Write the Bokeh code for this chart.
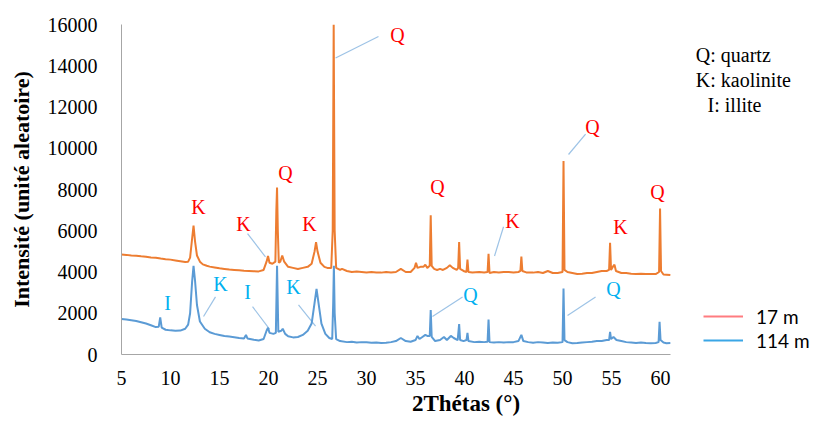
from bokeh.plotting import figure
from bokeh.models import Range1d, Label, Legend, LegendItem, FixedTicker
from bokeh.embed import file_html
from bokeh.resources import INLINE

# ---- data: 2-theta (deg) and intensity ----
theta_17 = [5.0, 5.5, 6.0, 6.5, 7.0, 7.5, 8.0, 8.5, 9.0, 9.5, 10.0, 10.5, 11.0, 11.5, 11.8, 12.0, 12.2, 12.35, 12.5, 12.7,
            13.0, 13.3, 13.7, 14.0, 14.5, 15.0, 15.5, 16.0, 16.5, 17.0, 17.5, 18.0, 18.5, 19.0, 19.5, 19.8, 19.95, 20.1, 20.4, 20.7,
            20.8, 20.87, 20.95, 21.05, 21.2, 21.4, 21.6, 22.0, 22.5, 23.0, 23.5, 24.0, 24.4, 24.7, 24.85, 25.0, 25.3, 25.7, 26.0, 26.4,
            26.55, 26.65, 26.75, 26.9, 27.3, 27.5, 28.0, 28.5, 29.0, 29.5, 30.0, 30.5, 31.0, 31.5, 32.0, 32.5, 33.0, 33.5, 34.0, 34.5,
            34.9, 35.05, 35.2, 35.5, 35.8, 36.0, 36.2, 36.45, 36.55, 36.65, 36.9, 37.2, 37.5, 37.8, 38.2, 38.5, 38.8, 39.2, 39.35, 39.45,
            39.55, 39.9, 40.2, 40.3, 40.4, 40.8, 41.5, 42.0, 42.35, 42.45, 42.55, 43.0, 43.5, 44.0, 44.5, 45.0, 45.5, 45.7, 45.8, 45.9,
            46.3, 47.0, 47.5, 48.0, 48.5, 49.0, 49.5, 50.0, 50.1, 50.2, 50.5, 51.0, 51.5, 52.0, 52.5, 53.0, 53.5, 54.0, 54.5, 54.75,
            54.85, 54.95, 55.2, 55.3, 55.45, 56.0, 56.5, 57.0, 57.5, 58.0, 58.5, 59.0, 59.5, 59.85, 59.95, 60.05, 60.3, 60.6, 61.0]
int_17 = [4850, 4830, 4800, 4790, 4760, 4740, 4700, 4690, 4650, 4620, 4600, 4560, 4520, 4480, 4500, 4700, 5600, 6250, 5500, 4800,
          4500, 4370, 4300, 4260, 4220, 4180, 4150, 4120, 4100, 4080, 4060, 4050, 4040, 4030, 4100, 4500, 4780, 4450, 4400, 4500,
          7000, 8100, 6000, 4450, 4500, 4800, 4500, 4250, 4200, 4150, 4200, 4250, 4400, 5000, 5450, 5000, 4450, 4250, 4200, 4200,
          6000, 16000, 6000, 4200, 4100, 4150, 4050, 4000, 4020, 4000, 3980, 4000, 3980, 3970, 4000, 3980, 4000, 4150, 4000, 4000,
          4200, 4450, 4200, 4250, 4250, 4350, 4200, 4300, 6750, 4300, 4150, 4100, 4150, 4100, 4200, 4330, 4200, 4100, 4200, 5450,
          4150, 4050, 4000, 4600, 4000, 3980, 4000, 3980, 4000, 4880, 3950, 4000, 3980, 4000, 4000, 3980, 4000, 4050, 4750, 4050,
          3980, 3970, 4000, 3950, 4050, 3950, 3950, 4000, 9380, 4100, 4000, 3950, 3900, 3920, 3950, 3950, 4000, 4050, 4050, 4100,
          5420, 4100, 4300, 4350, 4050, 3950, 3950, 3920, 3900, 3920, 3900, 3900, 3900, 4000, 7080, 4050, 3880, 3870, 3850]

theta_114 = [5.0, 5.5, 6.0, 6.5, 7.0, 7.5, 8.0, 8.5, 8.8, 8.95, 9.1, 9.5, 10.0, 10.5, 11.0, 11.5, 11.8, 12.0, 12.2, 12.35,
             12.5, 12.7, 13.0, 13.5, 14.0, 14.5, 15.0, 15.5, 16.0, 16.5, 17.0, 17.5, 17.7, 17.85, 18.5, 19.0, 19.5, 19.8, 19.95, 20.1,
             20.5, 20.75, 20.87, 21.0, 21.3, 21.45, 21.7, 22.0, 22.5, 23.0, 23.5, 24.0, 24.4, 24.7, 24.9, 25.1, 25.4, 25.8, 26.2, 26.5,
             26.6, 26.67, 26.75, 26.9, 27.3, 28.0, 28.5, 29.0, 29.5, 30.0, 30.5, 31.0, 31.5, 32.0, 32.5, 33.0, 33.5, 34.0, 34.5, 35.0,
             35.2, 35.4, 35.7, 36.0, 36.2, 36.45, 36.55, 36.65, 37.0, 37.5, 37.9, 38.2, 38.6, 38.9, 39.3, 39.45, 39.55, 39.9, 40.2, 40.3,
             40.4, 41.0, 41.5, 42.0, 42.35, 42.45, 42.55, 43.0, 43.5, 44.0, 44.5, 45.0, 45.5, 45.8, 46.0, 46.5, 47.0, 47.5, 48.0, 48.5,
             49.0, 49.5, 50.0, 50.1, 50.2, 50.5, 51.0, 51.5, 52.0, 52.5, 53.0, 53.5, 54.0, 54.5, 54.75, 54.85, 54.95, 55.2, 55.5, 56.0,
             56.5, 57.0, 57.5, 58.0, 58.5, 59.0, 59.5, 59.8, 59.9, 60.0, 60.3, 60.6, 61.0]
int_114 = [1720, 1700, 1660, 1620, 1560, 1500, 1420, 1330, 1350, 1800, 1300, 1200, 1170, 1150, 1160, 1250, 1450, 2000, 3500, 4300,
           3600, 2400, 1600, 1250, 1080, 1000, 950, 900, 870, 840, 800, 780, 950, 780, 720, 680, 750, 1150, 1300, 1050,
           1000, 1050, 4300, 1100, 1150, 1250, 1000, 880, 830, 850, 950, 1150, 1500, 2500, 3180, 2500, 1500, 1000, 800, 750,
           2500, 4300, 2000, 750, 650, 600, 620, 580, 600, 590, 570, 580, 560, 570, 600, 650, 800, 650, 620, 700,
           900, 750, 850, 950, 900, 900, 2150, 850, 650, 700, 850, 700, 900, 800, 700, 1480, 700, 650, 700, 1050,
           650, 600, 620, 600, 620, 1700, 600, 580, 600, 580, 600, 600, 650, 950, 650, 600, 570, 600, 580, 560,
           580, 570, 600, 3200, 700, 600, 550, 560, 580, 600, 620, 650, 650, 700, 700, 1100, 750, 850, 700, 650,
           600, 580, 560, 580, 560, 550, 560, 600, 1580, 700, 580, 550, 560]

x_ticks = [5, 10, 15, 20, 25, 30, 35, 40, 45, 50, 55, 60]
y_ticks = [0, 2000, 4000, 6000, 8000, 10000, 12000, 14000, 16000]

# peak annotations (mineral letter, x, y)
ann_17_text = ["Q", "Q", "K", "K", "K", "Q", "K", "Q", "K", "Q"]
ann_17_x = [33.16, 21.73, 12.86, 17.45, 24.18, 37.24, 44.9, 53.06, 55.92, 59.69]
ann_17_y = [15514, 8798, 7142, 6338, 6338, 8136, 6480, 11021, 6196, 7899]
ann_114_text = ["I", "K", "I", "K", "Q", "Q"]
ann_114_x = [9.69, 15.1, 17.86, 22.55, 40.61, 55.2]
ann_114_y = [2507, 3406, 3027, 3264, 2885, 3169]
# leader lines (x0, y0, x1, y1)
lead_x0 = [26.84, 17.86, 43.98, 52.35, 14.59, 18.37, 23.06, 39.8, 53.37]
lead_y0 = [14379, 5865, 6196, 10690, 2791, 2318, 2412, 2791, 2791]
lead_x1 = [31.22, 19.69, 43.06, 50.61, 13.37, 20.1, 24.8, 36.73, 50.51]
lead_y1 = [15420, 4730, 4777, 9697, 1845, 1230, 1372, 1845, 1892]

key_text = ["Q: quartz", "K: kaolinite", "I: illite"]
key_x = [63.6, 63.6, 64.8]
key_y = [14500, 13320, 12100]

series_names = ["17 m", "114 m"]

SERIF = "Liberation Serif"
NAN = float("nan")

p = figure(width=814, height=418, output_backend="svg", toolbar_location=None,
           x_range=Range1d(5, 75.3), y_range=Range1d(0, 16000),
           min_border_left=121, min_border_right=4, min_border_top=24, min_border_bottom=62)
p.outline_line_color = None
p.xgrid.visible = False
p.ygrid.visible = False

for ax in (p.xaxis[0], p.yaxis[0]):
    ax.axis_line_color = "#A6A6A6"
    ax.axis_line_width = 1
    ax.major_tick_line_color = None
    ax.minor_tick_line_color = None
    ax.major_label_text_font = SERIF
    ax.major_label_text_font_size = "20px"
    ax.major_label_text_color = "#000000"
    ax.axis_label_text_font = SERIF
    ax.axis_label_text_font_style = "bold"
    ax.axis_label_text_color = "#000000"

p.xaxis.bounds = (5, 61)
p.xaxis.ticker = FixedTicker(ticks=x_ticks)
p.yaxis.ticker = FixedTicker(ticks=y_ticks)
p.xaxis.axis_label = "2Thétas (°)"
p.yaxis.axis_label = "Intensité (unité aleatoire)"
p.xaxis.axis_label_text_font_size = "23px"
p.yaxis.axis_label_text_font_size = "22px"
p.xaxis.major_label_standoff = 10
p.xaxis.axis_label_standoff = 3
p.yaxis.major_label_standoff = 18
p.yaxis.axis_label_standoff = 11

# leader lines
p.segment(x0=lead_x0, y0=lead_y0, x1=lead_x1, y1=lead_y1, line_color="#9DC3E6", line_width=1.2)

p.line(theta_114, int_114, line_color="#5B9BD5", line_width=2)
p.line(theta_17, int_17, line_color="#ED7D31", line_width=2)

for t, x, y in zip(ann_17_text, ann_17_x, ann_17_y):
    p.add_layout(Label(x=x, y=y, text=t, text_color="#FF0000", text_font=SERIF,
                       text_font_size="20px", text_align="center", text_baseline="middle"))
for t, x, y in zip(ann_114_text, ann_114_x, ann_114_y):
    p.add_layout(Label(x=x, y=y, text=t, text_color="#00B0F0", text_font=SERIF,
                       text_font_size="20px", text_align="center", text_baseline="middle"))
for t, x, y in zip(key_text, key_x, key_y):
    p.add_layout(Label(x=x, y=y, text=t, text_color="#000000", text_font=SERIF,
                       text_font_size="20px", text_align="left", text_baseline="middle"))

# legend with its own swatches (renderers hold no visible data)
r17 = p.line([NAN], [NAN], line_color="#FF7C80", line_width=2)
r114 = p.line([NAN], [NAN], line_color="#3AA6E6", line_width=2)
legend = Legend(items=[LegendItem(label=series_names[0], renderers=[r17]),
                       LegendItem(label=series_names[1], renderers=[r114])],
                location=(582, 2), orientation="vertical",
                glyph_width=40, glyph_height=24, label_standoff=13, spacing=0,
                padding=0, margin=0, border_line_color=None, background_fill_alpha=0,
                label_text_font="Lato", label_text_font_size="19px", label_text_color="#000000")
p.add_layout(legend, "center")

open("out.html", "w").write(file_html(p, INLINE))
